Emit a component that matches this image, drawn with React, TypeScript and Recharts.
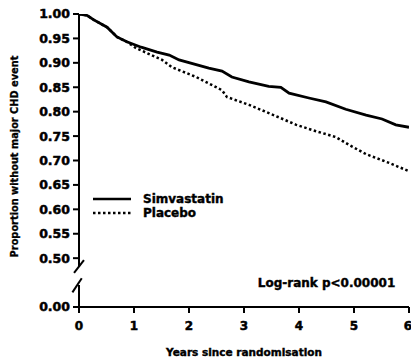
import React from 'react';
import { LineChart, Line, XAxis, YAxis, Legend, ReferenceLine, ReferenceDot, Label } from 'recharts';

const simvastatinYears = [0, 0.15, 0.27, 0.51, 0.69, 0.87, 1.13, 1.42, 1.64, 1.82, 2.36, 2.6, 2.78, 3.09, 3.45, 3.67, 3.82, 4.18, 4.49, 4.85, 5.22, 5.51, 5.76, 6.0];
const simvastatinValues = [1.0, 0.997, 0.988, 0.973, 0.953, 0.943, 0.932, 0.922, 0.916, 0.906, 0.889, 0.883, 0.871, 0.861, 0.852, 0.85, 0.838, 0.828, 0.82, 0.805, 0.793, 0.785, 0.773, 0.768];

const placeboYears = [0, 0.15, 0.27, 0.51, 0.69, 0.87, 1.04, 1.51, 1.69, 2.13, 2.6, 2.69, 3.09, 3.58, 3.95, 4.31, 4.67, 4.91, 5.22, 5.64, 6.0];
const placeboValues = [1.0, 0.997, 0.988, 0.973, 0.953, 0.943, 0.93, 0.906, 0.891, 0.871, 0.844, 0.83, 0.814, 0.791, 0.773, 0.76, 0.748, 0.732, 0.713, 0.695, 0.678];

const seriesNames = ['Simvastatin', 'Placebo'];
const seriesDashes = ['', '2.5 2.5'];

const xTicks = [0, 1, 2, 3, 4, 5, 6];
const yTicks = [0.4, 0.5, 0.55, 0.6, 0.65, 0.7, 0.75, 0.8, 0.85, 0.9, 0.95, 1.0];
const yTickLabels = ['0.00', '0.50', '0.55', '0.60', '0.65', '0.70', '0.75', '0.80', '0.85', '0.90', '0.95', '1.00'];

const xTitle = 'Years since randomisation';
const yTitle = 'Proportion without major CHD event';
const annotation = 'Log-rank p<0.00001';

const toRows = (xs: number[], ys: number[]) => xs.map((x, i) => ({ year: x, value: ys[i] }));
const simRows = toRows(simvastatinYears, simvastatinValues);
const plaRows = toRows(placeboYears, placeboValues);

const FONT = '"DejaVu Sans", sans-serif';

const LegendContent = () => (
  <div style={{ display: 'flex', flexDirection: 'column' }}>
    {seriesNames.map((n, i) => (
      <div key={n} style={{ display: 'flex', alignItems: 'center', height: 14 }}>
        <svg width={38} height={6} style={{ display: 'block' }}>
          <line x1={0} y1={3} x2={38} y2={3} stroke="#000" strokeWidth={2.5} strokeDasharray={seriesDashes[i] || undefined} />
        </svg>
        <span style={{ marginLeft: 12, fontFamily: FONT, fontWeight: 700, fontSize: 12, color: '#000', lineHeight: '14px', WebkitTextStroke: '0.4px #000' }}>{n}</span>
      </div>
    ))}
  </div>
);

export default function App() {
  return (
    <div style={{ position: 'absolute', left: 0, top: 0, width: 411, height: 362, background: '#fff' }}>
      <LineChart width={411} height={362} margin={{ top: 14, right: 2, bottom: 0, left: 0 }}>
        <XAxis
          type="number"
          dataKey="year"
          domain={[0, 6]}
          ticks={xTicks}
          height={55}
          tickSize={6}
          tickMargin={8}
          stroke="#000"
          strokeWidth={2}
          tick={{ fill: '#000', fontFamily: FONT, fontWeight: 700, fontSize: 12, stroke: '#000', strokeWidth: 0.5 }}
          allowDataOverflow
        >
          <Label
            content={({ viewBox }: any) => (
              <text x={viewBox.x + viewBox.width / 2} y={viewBox.y + 46} textAnchor="middle" dominantBaseline="middle" fontFamily={FONT} fontWeight={700} fontSize={10.5} fill="#000" stroke="#000" strokeWidth={0.4}>
                {xTitle}
              </text>
            )}
          />
        </XAxis>
        <YAxis
          type="number"
          domain={[0.4, 1.0]}
          ticks={yTicks}
          width={79}
          axisLine={false}
          tickSize={6}
          tickMargin={3}
          stroke="#000"
          strokeWidth={2}
          tickFormatter={(v: number) => yTickLabels[yTicks.indexOf(v)] ?? String(v)}
          tick={{ fill: '#000', fontFamily: FONT, fontWeight: 700, fontSize: 12.5, stroke: '#000', strokeWidth: 0.5 }}
          allowDataOverflow
        >
          <Label
            content={({ viewBox }: any) => {
              const cx = viewBox.x + 15;
              const cy = viewBox.y + viewBox.height / 2 - 4;
              return (
                <text x={cx} y={cy} transform={`rotate(-90 ${cx} ${cy})`} textAnchor="middle" dominantBaseline="middle" fontFamily={FONT} fontWeight={700} fontSize={9.8} fill="#000" stroke="#000" strokeWidth={0.3}>
                  {yTitle}
                </text>
              );
            }}
          />
        </YAxis>
        <ReferenceLine segment={[{ x: 0, y: 1.0 }, { x: 0, y: 0.482 }]} stroke="#000" strokeWidth={2} ifOverflow="visible" />
        <ReferenceLine segment={[{ x: -0.09, y: 0.47 }, { x: 0.09, y: 0.496 }]} stroke="#000" strokeWidth={2} ifOverflow="visible" />
        <ReferenceLine segment={[{ x: -0.12, y: 0.43 }, { x: 0.05, y: 0.459 }]} stroke="#000" strokeWidth={2} ifOverflow="visible" />
        <ReferenceLine segment={[{ x: 0, y: 0.445 }, { x: 0, y: 0.4 }]} stroke="#000" strokeWidth={2} ifOverflow="visible" />
        <Line data={simRows} dataKey="value" name={seriesNames[0]} type="linear" stroke="#000" strokeWidth={2.8} dot={false} isAnimationActive={false} />
        <Line data={plaRows} dataKey="value" name={seriesNames[1]} type="linear" stroke="#000" strokeWidth={2.5} strokeDasharray={seriesDashes[1]} dot={false} isAnimationActive={false} />
        <ReferenceDot
          x={3.25}
          y={0.449}
          r={0}
          fill="none"
          stroke="none"
          ifOverflow="visible"
          label={{
            content: ({ viewBox }: any) => (
              <text x={viewBox.x} y={viewBox.y} dominantBaseline="middle" fontFamily={FONT} fontWeight={700} fontSize={12} fill="#000" stroke="#000" strokeWidth={0.4}>
                {annotation}
              </text>
            ),
          }}
        />
        <Legend layout="horizontal" verticalAlign="middle" align="center" content={<LegendContent />} wrapperStyle={{ left: 93, top: 192, width: 'auto', height: 'auto' }} />
      </LineChart>
    </div>
  );
}
